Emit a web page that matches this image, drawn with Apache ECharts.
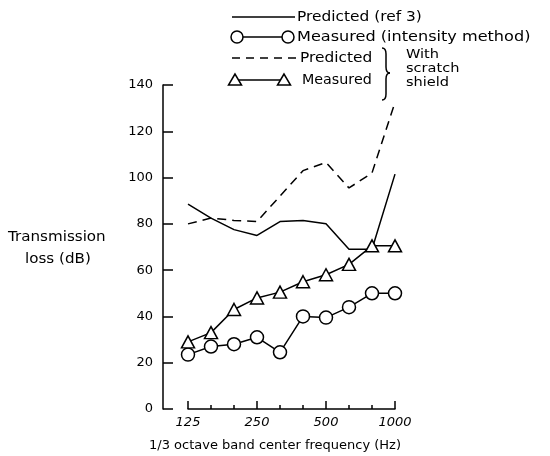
<!DOCTYPE html>
<html>
<head>
<meta charset="utf-8">
<script src="https://cdn.jsdelivr.net/npm/echarts@6/dist/echarts.min.js"></script>
<style>
  html, body { margin: 0; padding: 0; background: #fff; }
  #chart { width: 550px; height: 456px; }
</style>
</head>
<body>
<div id="chart"></div>
<script>
// 1/3 octave band center frequencies (Hz)
const freqs = ['125', '160', '200', '250', '315', '400', '500', '630', '800', '1000'];
// transmission loss in dB
const predictedRef3 = [88.5, 82.5, 77.5, 75, 81, 81.5, 80, 69, 69, 101.5];
const measuredIntensity = [23.5, 27, 28, 31, 24.5, 40, 39.5, 44, 50, 50];
const predictedShield = [80, 82.5, 81.5, 81, 92, 103, 106.5, 95.5, 102, 132.5];
const measuredShield = [29, 33, 43, 48, 50.5, 55, 58, 62.5, 70.5, 70.5];

const FONT = 'DejaVu Sans';
const ink = '#000';

const chart = echarts.init(document.getElementById('chart'));

// the scanned figure uses a wide typewriter face, so stretch the text a bit
function label(x, y, text, sx, extra) {
  return {
    type: 'text', x: x, y: y, scaleX: sx || 1.1,
    style: Object.assign({ text: text, fill: ink, font: '14px ' + FONT, verticalAlign: 'middle' }, extra || {})
  };
}
function triangle(cx, cy) {
  return {
    type: 'polygon',
    shape: { points: [[cx, cy - 6], [cx - 6.5, cy + 5], [cx + 6.5, cy + 5]] },
    style: { fill: '#fff', stroke: ink, lineWidth: 1.5 }
  };
}
function seg(x1, y1, x2, y2) {
  return { type: 'line', shape: { x1: x1, y1: y1, x2: x2, y2: y2 }, style: { stroke: ink, lineWidth: 1.5 } };
}
function curve(x1, y1, cx, cy, x2, y2) {
  return {
    type: 'bezierCurve',
    shape: { x1: x1, y1: y1, x2: x2, y2: y2, cpx1: cx, cpy1: cy },
    style: { stroke: ink, lineWidth: 1.5, fill: null }
  };
}

const option = {
  animation: false,
  backgroundColor: '#fff',
  grid: { left: 188, right: 155, top: 85, bottom: 47 },
  xAxis: [
    {
      type: 'category',
      data: freqs,
      boundaryGap: false,
      axisLine: { lineStyle: { color: ink, width: 1.5 } },
      axisTick: { inside: true, length: 4, interval: 0, lineStyle: { color: ink, width: 1.5 } },
      axisLabel: { show: false },
      splitLine: { show: false }
    },
    {
      type: 'category',
      data: freqs,
      position: 'bottom',
      boundaryGap: false,
      axisLine: { show: false },
      axisTick: { inside: true, length: 8, interval: 2, lineStyle: { color: ink, width: 1.5 } },
      axisLabel: { interval: 2, color: ink, fontFamily: FONT, fontSize: 13, fontStyle: 'italic', margin: 7 },
      splitLine: { show: false }
    }
  ],
  yAxis: {
    type: 'value',
    min: 0,
    max: 140,
    interval: 20,
    offset: 25,
    axisLine: { show: true, lineStyle: { color: ink, width: 1.5 } },
    axisTick: { show: true, inside: true, length: 10, lineStyle: { color: ink, width: 1.5 } },
    axisLabel: { color: ink, fontFamily: FONT, fontSize: 13, margin: 10 },
    splitLine: { show: false }
  },
  series: [
    {
      name: 'Predicted (ref 3)',
      type: 'line',
      data: predictedRef3,
      symbol: 'none',
      lineStyle: { color: ink, width: 1.5 }
    },
    {
      name: 'Predicted (scratch shield)',
      type: 'line',
      data: predictedShield,
      symbol: 'none',
      lineStyle: { color: ink, width: 1.5, type: [9, 6] }
    },
    {
      name: 'Measured (intensity method)',
      type: 'line',
      data: measuredIntensity,
      symbol: 'circle',
      symbolSize: 13,
      itemStyle: { color: '#fff', borderColor: ink, borderWidth: 1.5 },
      lineStyle: { color: ink, width: 1.5 }
    },
    {
      name: 'Measured (scratch shield)',
      type: 'line',
      data: measuredShield,
      symbol: 'triangle',
      symbolSize: [13, 12],
      itemStyle: { color: '#fff', borderColor: ink, borderWidth: 1.5 },
      lineStyle: { color: ink, width: 1.5 }
    }
  ],
  graphic: [
    // axis titles
    label(8, 237, 'Transmission', 1.08),
    label(25, 259, 'loss (dB)', 1.08),
    { type: 'text', x: 275, y: 446, style: { text: '1/3 octave band center frequency (Hz)', fill: ink, font: '13px ' + FONT, align: 'center', verticalAlign: 'middle' } },
    // legend
    seg(232, 17, 295, 17),
    label(297, 17, 'Predicted (ref 3)'),
    seg(237, 37, 288, 37),
    { type: 'circle', shape: { cx: 237, cy: 37, r: 6 }, style: { fill: '#fff', stroke: ink, lineWidth: 1.5 } },
    { type: 'circle', shape: { cx: 288, cy: 37, r: 6 }, style: { fill: '#fff', stroke: ink, lineWidth: 1.5 } },
    label(297, 37, 'Measured (intensity method)', 1.15),
    { type: 'line', shape: { x1: 232, y1: 58, x2: 297, y2: 58 }, style: { stroke: ink, lineWidth: 1.5, lineDash: [8, 6] } },
    label(300, 58, 'Predicted'),
    seg(235, 80, 284, 80),
    triangle(235, 80),
    triangle(284, 80),
    label(302, 80, 'Measured', 1.02),
    // brace grouping the scratch shield entries
    curve(382, 48, 386, 48, 386, 54),
    seg(386, 54, 386, 67),
    curve(386, 67, 386, 73, 390, 73),
    curve(390, 73, 386, 73, 386, 79),
    seg(386, 79, 386, 94),
    curve(386, 94, 386, 100, 382, 100),
    label(406, 48, 'With\nscratch\nshield', 1.12, { font: '13px ' + FONT, lineHeight: 14, verticalAlign: 'top' })
  ]
};

chart.setOption(option);
</script>
</body>
</html>
